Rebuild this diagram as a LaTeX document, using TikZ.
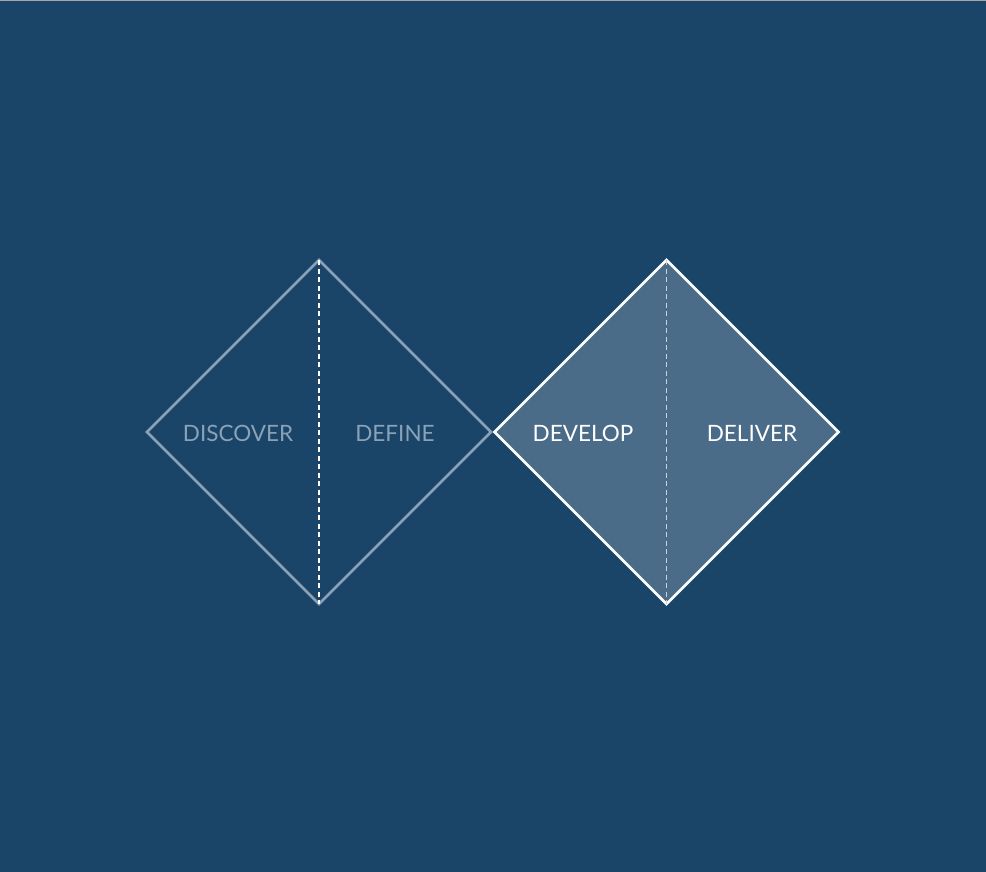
\documentclass[tikz,border=0pt]{standalone}
\usepackage{fontspec}
\setmainfont{Lato}
\usetikzlibrary{shapes.geometric}
\definecolor{bgblue}{HTML}{1A4568}
\definecolor{faint}{HTML}{8AA2B7}
\definecolor{fillblue}{HTML}{4A6C88}
\begin{document}
\begin{tikzpicture}[x=1pt,y=-1pt,
    phase/.style={diamond,minimum width=344pt,minimum height=344pt,aspect=1,inner sep=0pt,outer sep=0pt,line width=2.8pt},
    split/.style={dash pattern=on 5pt off 3.5pt,line width=1.1pt},
    label/.style={font=\fontsize{22.5}{22.5}\selectfont,inner sep=0pt}]
\useasboundingbox (0,0) rectangle (986,872);
\fill[bgblue] (0,0) rectangle (986,872);
\fill[gray!70] (0,0) rectangle (986,1.2);

\node[phase,draw=faint] (first) at (319,432) {};
\node[phase,draw=white,fill=fillblue] (second) at (666.5,432) {};

\draw[split, white] (first.north) -- (first.south);
\draw[split, white!70!fillblue] (second.north) -- (second.south);

\node[label,text=faint] (discover) at (238,433) {DISCOVER};
\node[label,text=faint] (define) at (395,433) {DEFINE};
\node[label,text=white] (develop) at (583,433) {DEVELOP};
\node[label,text=white] (deliver) at (752,433) {DELIVER};
\end{tikzpicture}
\end{document}
